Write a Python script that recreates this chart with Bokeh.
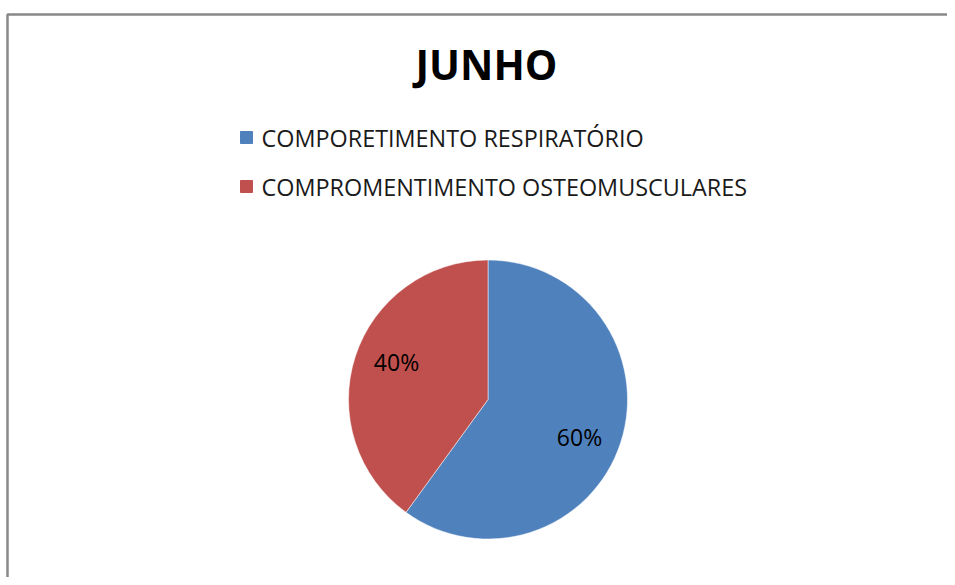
import math
from bokeh.plotting import figure
from bokeh.models import Range1d, ColumnDataSource
from bokeh.core.properties import value
from bokeh.embed import file_html
from bokeh.resources import INLINE

title = "JUNHO"
categories = ["COMPORETIMENTO RESPIRATÓRIO", "COMPROMENTIMENTO OSTEOMUSCULARES"]
values = [60, 40]
colors = ["#4F81BD", "#C0504D"]

W, H = 947, 577
p = figure(width=W, height=H, output_backend="svg", toolbar_location=None,
           x_range=Range1d(0, W), y_range=Range1d(0, H), min_border=0)
p.axis.visible = False
p.grid.visible = False
p.outline_line_color = None

# chart area border (cropped at right/bottom)
p.quad(left=[7], right=[W + 20], top=[H - 14], bottom=[-20],
       fill_color=None, line_color="#888888", line_width=2.5)

# pie
cx, cy, r = 487.5, H - 399, 139.5
total = sum(values)
starts, ends, lx, ly, labels = [], [], [], [], []
cur = math.pi / 2
label_rot = math.radians(-4.5)
for v in values:
    a = 2 * math.pi * v / total
    s, e = cur - a, cur
    starts.append(s)
    ends.append(e)
    mid = (s + e) / 2 + label_rot
    lx.append(cx + 0.71 * r * math.cos(mid))
    ly.append(cy + 0.71 * r * math.sin(mid))
    labels.append(f"{round(100 * v / total)}%")
    cur = s

src = ColumnDataSource(dict(start=starts, end=ends, color=colors, x=lx, y=ly, label=labels))
p.wedge(x=cx, y=cy, radius=r, radius_units="data", start_angle="start", end_angle="end",
        fill_color="color", line_color="white", line_width=0.5, source=src)
p.text(x="x", y="y", text="label", source=src, text_align="center", text_baseline="middle",
       text_font=value("Open Sans"), text_font_size="23px", text_color="#000000")

# title
p.text(x=[486], y=[H - 63], text=[title], text_align="center", text_baseline="middle",
       text_font=value("Open Sans"), text_font_size="41px", text_font_style="bold",
       text_color="#000000")

# legend
leg_y = [H - 137 - 49 * i for i in range(len(categories))]
p.scatter(x=[246] * len(categories), y=leg_y, marker="square", size=12,
          fill_color=colors, line_color=colors)
p.text(x=[261] * len(categories), y=leg_y, text=categories, text_align="left",
       text_baseline="middle", text_font=value("Open Sans"), text_font_size="23.4px",
       text_color="#1a1a1a")

open("out.html", "w").write(file_html(p, INLINE))
